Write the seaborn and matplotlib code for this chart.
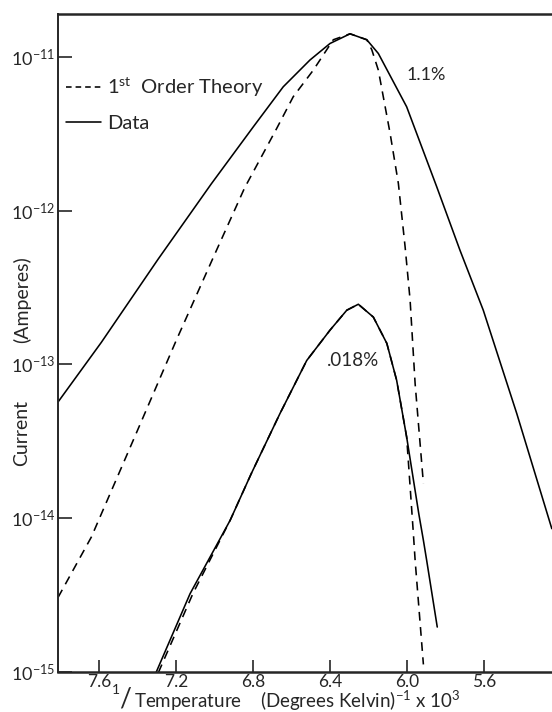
import numpy as np
import pandas as pd
import seaborn as sns
import matplotlib.pyplot as plt
from matplotlib.lines import Line2D
from matplotlib.ticker import NullLocator, FixedLocator

# values: 1/T (x10^3 K^-1) and current (A)
data_hi_x = [7.813, 7.588, 7.293, 7.017, 6.798, 6.643, 6.504, 6.400, 6.296,
             6.209, 6.149, 6.002, 5.846, 5.725, 5.604, 5.430, 5.248]
data_hi_i = [5.69e-14, 1.39e-13, 4.83e-13, 1.49e-12, 3.51e-12, 6.38e-12, 9.53e-12,
             1.22e-11, 1.41e-11, 1.29e-11, 1.05e-11, 4.73e-12, 1.43e-12, 5.52e-13,
             2.25e-13, 4.79e-14, 8.55e-15]

theory_hi_x = [7.813, 7.640, 7.415, 7.198, 6.999, 6.843, 6.677, 6.591, 6.487, 6.383,
               6.296, 6.209, 6.183, 6.149, 6.088, 6.045, 6.010, 5.984, 5.958, 5.915]
theory_hi_i = [3.05e-15, 7.53e-15, 3.37e-14, 1.44e-13, 5.20e-13, 1.41e-12, 3.42e-12,
               5.50e-12, 8.18e-12, 1.29e-11, 1.41e-11, 1.29e-11, 1.11e-11, 8.18e-12,
               3.18e-12, 1.50e-12, 5.81e-13, 2.61e-13, 7.50e-14, 1.68e-14]

data_lo_x = [7.304, 7.127, 6.919, 6.809, 6.660, 6.521, 6.400, 6.313, 6.253,
             6.175, 6.105, 6.054, 6.002, 5.939, 5.915, 5.898, 5.843]
data_lo_i = [0.99e-15, 3.23e-15, 9.68e-15, 1.95e-14, 4.79e-14, 1.06e-13, 1.67e-13,
             2.25e-13, 2.46e-13, 2.03e-13, 1.37e-13, 7.89e-14, 3.37e-14, 1.07e-14,
             7.18e-15, 5.32e-15, 1.96e-15]

theory_lo_x = [7.292, 7.112, 6.919, 6.809, 6.660, 6.521, 6.400, 6.313, 6.253,
               6.175, 6.105, 6.054, 6.002, 5.967, 5.958, 5.915]
theory_lo_i = [0.99e-15, 3.24e-15, 9.68e-15, 1.95e-14, 4.79e-14, 1.06e-13, 1.67e-13,
               2.25e-13, 2.46e-13, 2.03e-13, 1.37e-13, 7.89e-14, 3.37e-14, 7.93e-15,
               5.33e-15, 1.12e-15]

x_ticks = [7.6, 7.2, 6.8, 6.4, 6.0, 5.6]
x_ticklabels = ['7.6', '7.2', '6.8', '6.4', '6.0', '5.6']
y_ticks = [1e-15, 1e-14, 1e-13, 1e-12, 1e-11]

sns.set_style('ticks')
plt.rcParams['font.family'] = ['Lato', 'DejaVu Sans']
plt.rcParams['mathtext.default'] = 'regular'

W, H = 552, 712
fig = plt.figure(figsize=(W / 100, H / 100), dpi=100)
ax = fig.add_axes([58 / W, 40 / H, 494 / W, 658 / H])

dash = (0, (5.5, 4))
lw = 1.15
sns.lineplot(x=data_hi_x, y=data_hi_i, color='black', lw=lw, sort=False, estimator=None, ax=ax)
sns.lineplot(x=theory_hi_x, y=theory_hi_i, color='black', lw=lw, linestyle=dash,
             sort=False, estimator=None, ax=ax)
sns.lineplot(x=data_lo_x, y=data_lo_i, color='black', lw=lw, sort=False, estimator=None, ax=ax)
sns.lineplot(x=theory_lo_x, y=theory_lo_i, color='black', lw=lw, linestyle=dash,
             sort=False, estimator=None, ax=ax)

ax.set_yscale('log')
ax.set_xlim(7.813, 5.247)
ax.set_ylim(1e-15, 10 ** -10.722)
ax.yaxis.set_major_locator(FixedLocator(y_ticks))
ax.yaxis.set_minor_locator(NullLocator())
ax.set_xticks(x_ticks)
ax.set_xticklabels(x_ticklabels)
ax.tick_params(axis='y', direction='in', length=10, width=1.2, pad=2, labelsize=13)
ax.tick_params(axis='x', direction='in', length=8.5, width=1.2, pad=1.5, labelsize=12.5)

ax.spines['right'].set_visible(False)
for s in ['top', 'bottom']:
    ax.spines[s].set_linewidth(1.8)
ax.spines['left'].set_linewidth(1.4)

ax.set_xlabel('')
ax.set_ylabel('')

handles = [Line2D([], [], color='black', lw=lw, linestyle=(0, (3.5, 2.5))),
           Line2D([], [], color='black', lw=lw)]
ax.legend(handles, [r'1$^{st}$  Order Theory', 'Data'], loc='upper left',
          bbox_to_anchor=(-2 / 494, 1 - 52 / 658), frameon=False, fontsize=14.5,
          handlelength=1.75, handletextpad=0.3, borderpad=0, labelspacing=0.8)

ax.text(5.901, 7.6e-12, '1.1%', fontsize=13, ha='center', va='center')
ax.text(6.281, 1.06e-13, '.018%', fontsize=13.5, ha='center', va='center')

# y label in two pieces, as in the original
fig.text(22 / W, 1 - 433 / H, 'Current', fontsize=14, rotation=90,
         ha='center', va='center')
fig.text(22 / W, 1 - 300 / H, '(Amperes)', fontsize=14, rotation=90,
         ha='center', va='center')

# x label: small raised 1, large slash, then the rest
fig.text(116 / W, 1 - 690 / H, '1', fontsize=10, ha='center', va='center')
fig.text(125 / W, 1 - 699 / H, '/', fontsize=19, ha='center', va='center')
fig.text(134 / W, 1 - 708 / H, r'Temperature    (Degrees Kelvin)$^{-1}$ x 10$^3$',
         fontsize=13.5, ha='left', va='baseline')

fig.savefig('out.png', dpi=100)
